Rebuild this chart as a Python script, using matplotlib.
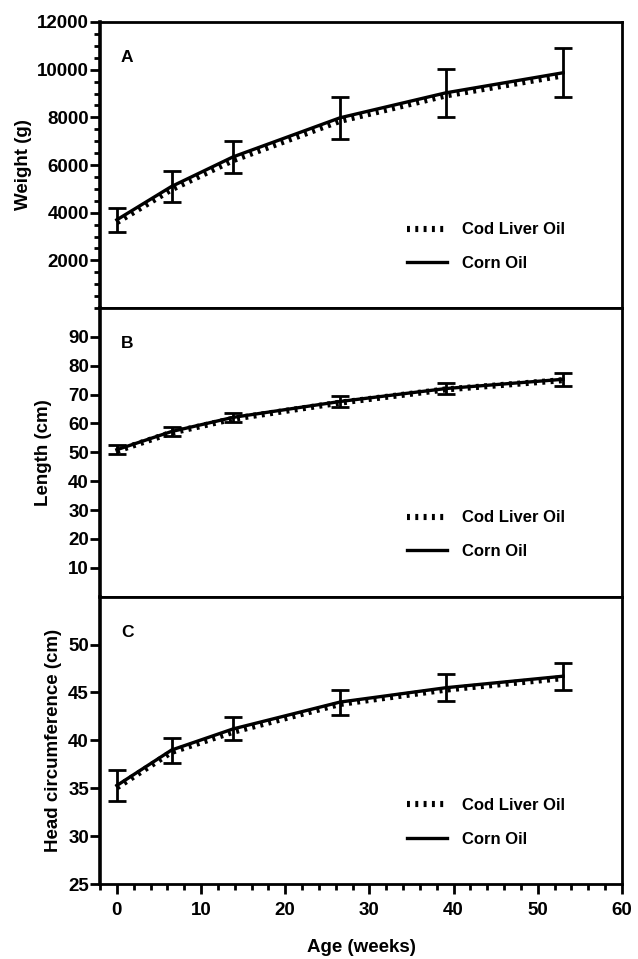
import matplotlib
matplotlib.use("Agg")
import matplotlib.pyplot as plt
from matplotlib.ticker import MultipleLocator
from matplotlib.lines import Line2D

plt.rcParams.update({'font.family': ['Liberation Sans', 'DejaVu Sans'],
                     'font.weight': 'bold',
                     'axes.labelweight': 'bold'})

# ages (weeks) of the six visits
age = [0, 6.5, 13.8, 26.5, 39.1, 53.0]

# weight (g)
weight_corn = [3700, 5100, 6340, 7980, 9030, 9870]
weight_cod = [3600, 4980, 6200, 7850, 8920, 9760]
weight_sd = [500, 640, 680, 880, 1000, 1020]

# length (cm)
length_corn = [50.9, 57.2, 62.1, 67.6, 72.1, 75.3]
length_cod = [50.5, 56.8, 61.6, 67.2, 71.8, 75.0]
length_sd = [1.6, 1.6, 1.6, 2.0, 2.0, 2.3]

# head circumference (cm)
head_corn = [35.3, 39.0, 41.2, 44.0, 45.5, 46.7]
head_cod = [35.1, 38.8, 40.9, 43.8, 45.3, 46.5]
head_sd = [1.6, 1.3, 1.2, 1.3, 1.4, 1.4]

panels = [
    ("A", "Weight (g)", weight_corn, weight_cod, weight_sd, (0, 12000), list(range(2000, 12001, 2000)), 500, -0.130),
    ("B", "Length (cm)", length_corn, length_cod, length_sd, (0, 100), list(range(10, 91, 10)), None, -0.092),
    ("C", "Head circumference (cm)", head_corn, head_cod, head_sd, (25, 55), list(range(25, 51, 5)), None, -0.073),
]

W, H = 638, 959
fig = plt.figure(figsize=(W / 100, H / 100), dpi=100)

left, right = 100, 622
bounds = [(22, 308), (308, 596.6), (596.6, 884.3)]
dot_style = dict(color='black', lw=4.4, linestyle=(0, (0.48, 0.88)), dash_capstyle='butt')

axes = []
for (top, bot), p in zip(bounds, panels):
    letter, ylab, corn, cod, sd, ylim, yt, ymin, labx = p
    ax = fig.add_axes([left / W, 1 - bot / H, (right - left) / W, (bot - top) / H])
    ax.plot(age, cod, **dot_style)
    ax.errorbar(age, corn, yerr=sd, color='black', lw=2.4, elinewidth=2,
                capsize=6.5, capthick=2)
    ax.set_xlim(-2, 60)
    ax.set_ylim(*ylim)
    ax.set_yticks(yt)
    if ymin:
        ax.yaxis.set_minor_locator(MultipleLocator(ymin))
    ax.set_ylabel(ylab, fontsize=13.5)
    ax.yaxis.set_label_coords(labx, 0.5)
    ax.text(0.04, 0.86, letter, transform=ax.transAxes, fontsize=12.5, fontweight='bold')
    for s in ax.spines.values():
        s.set_linewidth(2)
    ax.spines['left'].set_linewidth(2.6)
    ax.tick_params(axis='y', which='major', length=7, width=2, labelsize=13.5, pad=1)
    ax.tick_params(axis='y', which='minor', length=4, width=2)
    handles = [Line2D([], [], **dot_style), Line2D([], [], color='black', lw=2.4)]
    ax.legend(handles, ['Cod Liver Oil', 'Corn Oil'], loc='center left',
              bbox_to_anchor=(0.56, 0.215), frameon=False,
              fontsize=12, handlelength=2.4, handletextpad=0.9, labelspacing=1.1)
    axes.append(ax)

for ax in axes[:2]:
    ax.tick_params(axis='x', which='both', bottom=False, labelbottom=False)

ax = axes[2]
ax.set_xticks(range(0, 61, 10))
ax.xaxis.set_minor_locator(MultipleLocator(2))
ax.tick_params(axis='x', which='major', length=7, width=2, labelsize=13.5, pad=6)
ax.tick_params(axis='x', which='minor', length=4, width=2)
ax.set_xlabel("Age (weeks)", fontsize=13.5, labelpad=14)

fig.savefig("out.png", dpi=100)
